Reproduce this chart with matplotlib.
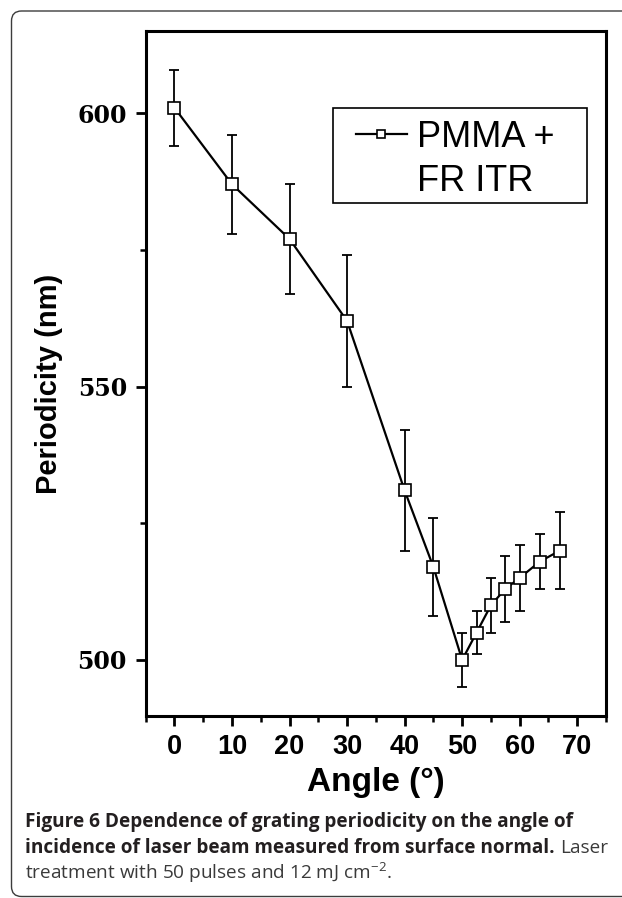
import matplotlib
matplotlib.use("Agg")
import matplotlib.pyplot as plt
from matplotlib.patches import FancyBboxPatch, Rectangle
from matplotlib.lines import Line2D
from matplotlib.transforms import IdentityTransform
from matplotlib.ticker import MultipleLocator

# data
angle = [0, 10, 20, 30, 40, 45, 50, 52.5, 55, 57.5, 60, 63.5, 67]
period = [601, 587, 577, 562, 531, 517, 500, 505, 510, 513, 515, 518, 520]
err = [7, 9, 10, 12, 11, 9, 5, 4, 5, 6, 6, 5, 7]
x_ticks = [0, 10, 20, 30, 40, 50, 60, 70]
y_ticks = [500, 550, 600]

W, H = 622, 898
fig = plt.figure(figsize=(W / 100, H / 100), dpi=100)
ax = fig.add_axes([145.7 / W, 1 - 715.7 / H, (606 - 145.7) / W, (715.7 - 30.7) / H])

ax.errorbar(angle, period, yerr=err, fmt='none', ecolor='black',
            elinewidth=1.3, capsize=3.8, capthick=1.3, zorder=2)
line, = ax.plot(angle, period, '-', color='black', lw=1.6, marker='s', ms=8,
                mfc='white', mec='black', mew=1.2, zorder=3)

ax.set_xlim(-5, 75)
ax.set_ylim(489.8, 615.1)
ax.set_xticks(x_ticks)
ax.set_yticks(y_ticks)
ax.xaxis.set_minor_locator(MultipleLocator(5))
ax.yaxis.set_minor_locator(MultipleLocator(25))

for s in ax.spines.values():
    s.set_linewidth(2.2)
ax.tick_params(which='major', direction='out', length=7.5, width=2, pad=6)
ax.tick_params(which='minor', direction='out', length=4.5, width=1.8)

for lbl in ax.get_xticklabels():
    lbl.set_fontfamily('Liberation Sans')
    lbl.set_fontweight('bold')
    lbl.set_fontsize(19.5)
for lbl in ax.get_yticklabels():
    lbl.set_fontfamily('DejaVu Serif')
    lbl.set_fontweight('bold')
    lbl.set_fontsize(17)

fig.text(376 / W, 1 - 782 / H, 'Angle (°)', ha='center', va='center',
         family='Liberation Sans', weight='bold', fontsize=24)
fig.text(49 / W, 1 - 384 / H, 'Periodicity (nm)', ha='center', va='center',
         rotation=90, family='Liberation Sans', weight='bold', fontsize=21)

# legend: handle on first line, second line as a blank entry
blank = Line2D([], [], linestyle='none')
leg = ax.legend([line, blank], ['PMMA +', 'FR ITR'], loc='upper left',
                bbox_to_anchor=(0.457, 0.870),
                prop={'family': 'Liberation Sans', 'size': 26},
                frameon=False, borderpad=0, borderaxespad=0,
                handlelength=1.4, handletextpad=0.3, labelspacing=0.25,
                markerscale=0.75)
ax.add_patch(Rectangle((0.407, 0.749), 0.552, 0.138, transform=ax.transAxes,
                       fill=False, edgecolor='black', linewidth=1.2, zorder=5))

# caption
cap_col = '#231f20'
fs = 13.7
cx = 25 / W
fig.text(cx, 1 - 826.5 / H,
         'Figure 6 Dependence of grating periodicity on the angle of',
         family='Open Sans', weight='bold', fontsize=fs, color=cap_col,
         va='baseline')
t2 = fig.text(cx, 1 - 853 / H,
              'incidence of laser beam measured from surface normal.',
              family='Open Sans', weight='bold', fontsize=fs, color=cap_col,
              va='baseline')
r = fig.canvas.get_renderer()
x_end = t2.get_window_extent(r).x1
fig.text((x_end + 5) / W, 1 - 853 / H, 'Laser', family='Open Sans',
         fontsize=fs, color='#3a3a3a', va='baseline')
plt.rcParams['mathtext.fontset'] = 'custom'
plt.rcParams['mathtext.rm'] = 'Open Sans'
fig.text(cx, 1 - 879 / H, r'treatment with 50 pulses and 12 mJ cm$^{\mathregular{−2}}$.',
         family='Open Sans', fontsize=fs, color='#3a3a3a', va='baseline')

# rounded frame around the panel
frame = FancyBboxPatch((11.5, 1.5), 700, 885.5, boxstyle='round,pad=0,rounding_size=10',
                       transform=IdentityTransform(), fill=False,
                       edgecolor='#3c3c3c', linewidth=1.0)
fig.add_artist(frame)

fig.savefig('out.png', dpi=100)
